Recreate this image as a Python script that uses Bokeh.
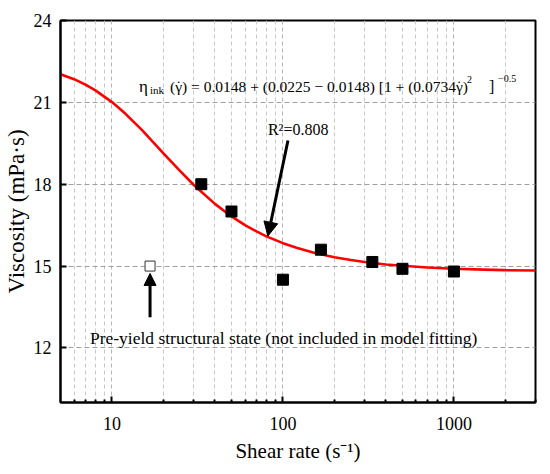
from bokeh.plotting import figure
from bokeh.models import Range1d, FixedTicker, Label, Arrow, NormalHead
from bokeh.embed import file_html
from bokeh.resources import INLINE

# ---- data ----
shear_fit = [33.3, 50, 100, 166.7, 333.3, 500, 1000]
visc_fit = [18.0, 17.0, 14.5, 15.6, 15.15, 14.9, 14.8]

shear_pre = [16.7]
visc_pre = [15.0]

curve_shear = [5, 6, 7, 8, 10, 12, 15, 20, 25, 30, 40, 50, 60, 70, 80, 100,
               120, 150, 200, 250, 300, 400, 500, 700, 1000, 1500, 2000, 3000]
curve_visc = [22.03, 21.85, 21.65, 21.44, 21.01, 20.58, 19.98, 19.13, 18.49,
              17.98, 17.28, 16.82, 16.50, 16.27, 16.09, 15.84, 15.67, 15.50,
              15.32, 15.22, 15.15, 15.06, 15.01, 14.95, 14.90, 14.87, 14.85, 14.84]

x_ticks = [10, 100, 1000]
x_tick_labels = ["10", "100", "1000"]
x_minor = [6, 7, 8, 9, 20, 30, 40, 50, 60, 70, 80, 90,
           200, 300, 400, 500, 600, 700, 800, 900, 2000, 3000]
y_ticks = [12, 15, 18, 21, 24]
y_tick_labels = ["12", "15", "18", "21", "24"]

formula_anchor = (14.4, 21.58)
r2_anchor = (81.7, 20.0)
note_anchor = (7.43, 12.35)
arrow_r2 = (107, 19.6, 81.7, 16.1)
arrow_pre = (16.7, 13.12, 16.7, 14.73)

FONT = "'Liberation Serif', 'Times New Roman', serif"

p = figure(width=550, height=474, x_axis_type="log",
           x_range=Range1d(5, 3000), y_range=Range1d(10, 24),
           output_backend="svg", toolbar_location=None,
           min_border_left=58, min_border_right=15,
           min_border_top=20, min_border_bottom=72)
p.background_fill_color = "white"
p.border_fill_color = "white"
p.outline_line_color = "black"
p.outline_line_width = 2

# axes
p.xaxis.ticker = FixedTicker(ticks=x_ticks, minor_ticks=x_minor)
p.xaxis.major_label_overrides = {t: l for t, l in zip(x_ticks, x_tick_labels)}
p.yaxis.ticker = FixedTicker(ticks=y_ticks)
p.yaxis.major_label_overrides = {t: l for t, l in zip(y_ticks, y_tick_labels)}

for ax in (p.xaxis[0], p.yaxis[0]):
    ax.axis_line_width = 2
    ax.axis_line_color = "black"
    ax.major_tick_in = 6
    ax.major_tick_out = 0
    ax.major_tick_line_width = 2
    ax.major_tick_line_color = "black"
    ax.minor_tick_in = 3
    ax.minor_tick_out = 0
    ax.minor_tick_line_width = 2
    ax.minor_tick_line_color = "black"
    ax.major_label_text_font = FONT
    ax.major_label_text_font_size = "18px"
    ax.major_label_text_color = "black"
    ax.axis_label_text_font = FONT
    ax.axis_label_text_font_style = "normal"
    ax.axis_label_text_color = "black"
p.yaxis.minor_tick_line_color = None
p.xaxis.major_label_standoff = 14
p.yaxis.major_label_standoff = 9
p.xaxis.axis_label = "Shear rate (s\u207b\u00b9)"
p.xaxis.axis_label_text_font_size = "21px"
p.xaxis.axis_label_standoff = 6
p.yaxis.axis_label = "Viscosity (mPa\u00b7s)"
p.yaxis.axis_label_text_font_size = "23px"
p.yaxis.axis_label_standoff = 2

# grids
p.xgrid.grid_line_color = "#b4b4b4"
p.xgrid.grid_line_dash = "4 3"
p.xgrid.grid_line_width = 1
p.xgrid.minor_grid_line_color = "#c8c8c8"
p.xgrid.minor_grid_line_dash = "4 3"
p.ygrid.grid_line_color = "#a0a0a0"
p.ygrid.grid_line_dash = "5 3"
p.ygrid.grid_line_width = 1

# glyphs
p.line(curve_shear, curve_visc, line_color="#ff0000", line_width=2.6)
p.scatter(shear_fit, visc_fit, marker="square", size=11,
          fill_color="black", line_color="black")
p.scatter(shear_pre, visc_pre, marker="square", size=10,
          fill_color="white", line_color="#333333", line_width=1)

# arrows
p.add_layout(Arrow(end=NormalHead(size=14, fill_color="black", line_color="black"),
                   x_start=arrow_r2[0], y_start=arrow_r2[1],
                   x_end=arrow_r2[2], y_end=arrow_r2[3],
                   line_width=3, line_color="black"))
p.add_layout(Arrow(end=NormalHead(size=12, fill_color="black", line_color="black"),
                   x_start=arrow_pre[0], y_start=arrow_pre[1],
                   x_end=arrow_pre[2], y_end=arrow_pre[3],
                   line_width=3, line_color="black"))

# texts
def add_text(txt, anchor, dx=0, dy=0, size="16px", align="left"):
    p.add_layout(Label(x=anchor[0], y=anchor[1], x_offset=dx, y_offset=dy,
                       text=txt, text_font=FONT, text_font_size=size,
                       text_color="black", text_baseline="alphabetic",
                       text_align=align))

add_text("\u03b7", formula_anchor, 0, 0, "17px")
add_text("ink", formula_anchor, 11, -3, "11px")
add_text("(\u03b3) = 0.0148 + (0.0225 \u2212 0.0148) [1 + (0.0734\u03b3)",
         formula_anchor, 31, 0, "15.5px")
add_text("\u02d9", formula_anchor, 39.5, 1, "15.5px", "center")
add_text("\u02d9", formula_anchor, 320, 1, "15.5px", "center")
add_text("2", formula_anchor, 328, 7, "10px")
add_text("]", formula_anchor, 350, 0, "16px")
add_text("\u22120.5", formula_anchor, 359, 8, "10px")

add_text("R\u00b2=0.808", r2_anchor, 0, 0, "16px")
add_text("Pre-yield structural state (not included in model fitting)",
         note_anchor, 0, 0, "17.5px")

open("out.html", "w").write(file_html(p, INLINE))
